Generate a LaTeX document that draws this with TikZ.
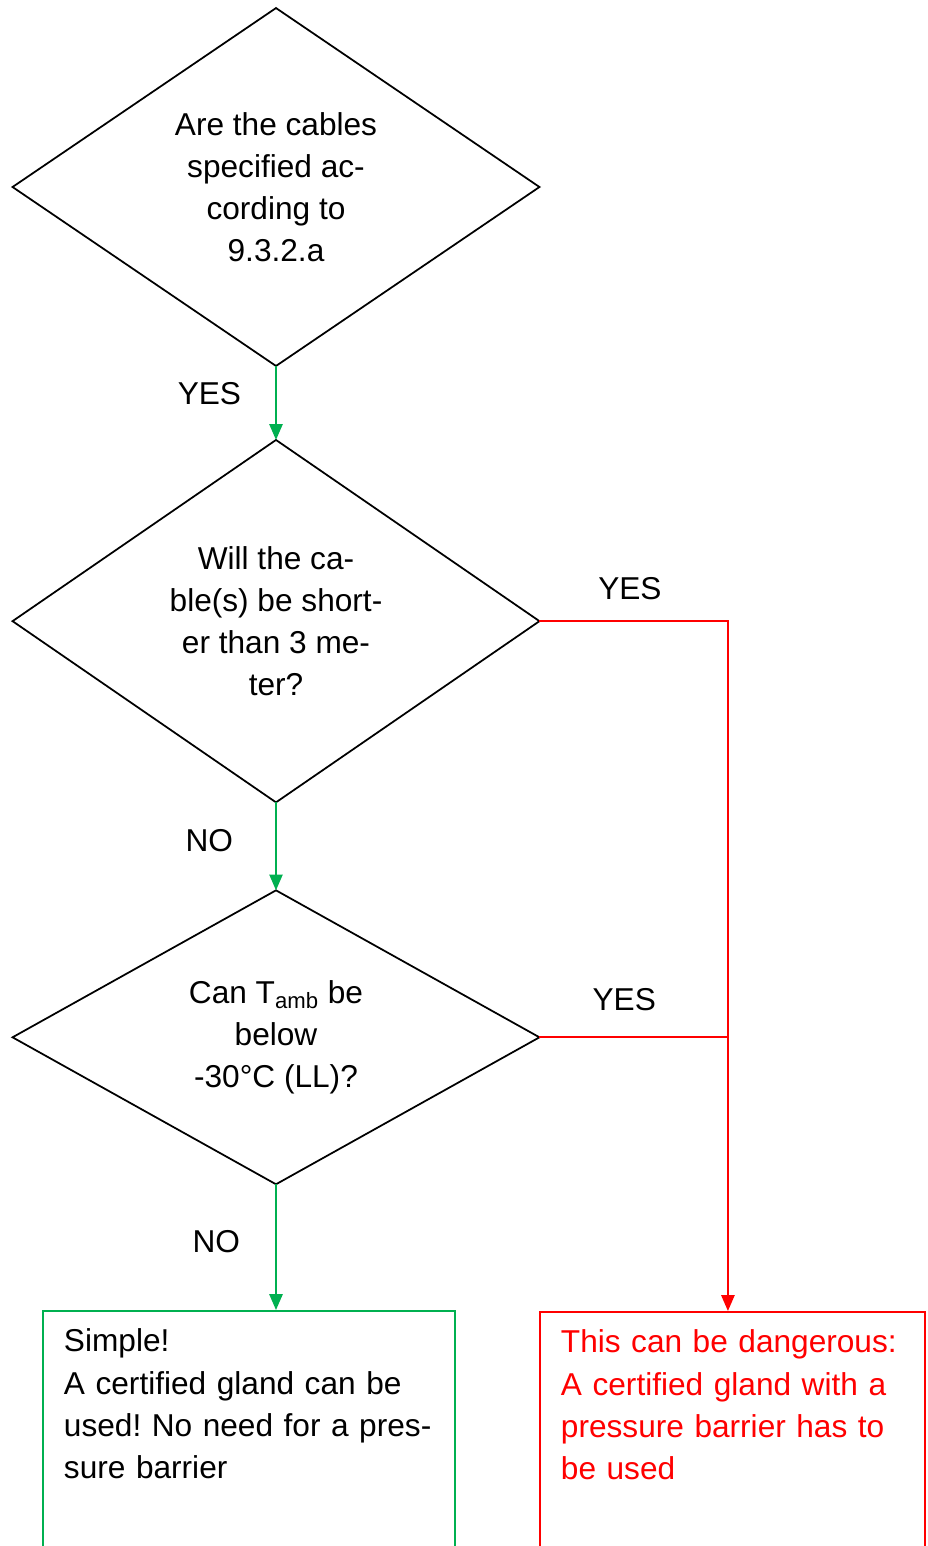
\documentclass[tikz,border=0pt]{standalone}
\usepackage{fontspec}
\setmainfont{Liberation Sans}
\frenchspacing
\usetikzlibrary{positioning,arrows.meta,shapes.geometric}
\definecolor{flowGreen}{HTML}{00B050}
\definecolor{flowRed}{HTML}{FF0000}
\tikzset{
  question/.style={diamond, draw=black, line width=1pt, inner sep=0pt, outer sep=0pt,
    minimum width=10.54cm, align=center, font=\fontsize{18}{24}\selectfont},
  answer/.style={rectangle, line width=1.1pt, anchor=north west, inner xsep=0.42cm,
    inner ysep=0.36cm, align=left, text depth=6cm, font=\fontsize{18}{24}\selectfont},
  greenflow/.style={draw=flowGreen, line width=1.1pt, -{Triangle[width=7.5pt,length=9pt]}},
  redline/.style={draw=flowRed, line width=1.1pt},
  redflow/.style={redline, -{Triangle[width=7.5pt,length=9pt]}},
  lbl/.style={inner sep=0pt, font=\fontsize{18}{24}\selectfont}
}
\begin{document}
\begin{tikzpicture}[x=0.02cm, y=-0.02cm]
  \clip (0,0) rectangle (928,1546);
  % questions
  \node[question, minimum height=7.16cm] (cables) at (276,187)
    {Are the cables\\ specified ac-\\ cording to\\ 9.3.2.a};
  \node[question, minimum height=7.24cm, below=1.48cm of cables] (short)
    {Will the ca-\\ ble(s) be short-\\ er than 3 me-\\ ter?};
  \node[question, minimum height=5.88cm, below=1.76cm of short] (tamb)
    {Can T\textsubscript{amb} be\\ below\\ -30°C (LL)?};
  % outcomes
  \node[answer, draw=flowGreen, text width=7.4cm] (simple) at (42,1310)
    {Simple!\\ A certified gland can be\\ \mbox{used! No need for a pres-}\\ sure barrier};
  \node[answer, draw=flowRed, text=flowRed, text width=6.86cm] (danger) at (539,1311)
    {This can be dangerous:\\ A certified gland with a\\ pressure barrier has to\\ be used};
  \coordinate (drop) at ([xshift=-0.09cm]danger.north);
  % connectors
  \draw[greenflow] (cables.south) -- node[lbl, left=0.68cm, yshift=0.18cm] {YES} (short.north);
  \draw[greenflow] (short.south) -- node[lbl, left=0.84cm, yshift=0.12cm] {NO} (tamb.north);
  \draw[greenflow] (tamb.south) -- node[lbl, left=0.7cm, yshift=0.12cm] {NO} (tamb.south |- simple.north);
  \draw[redflow] (short.east) -| node[lbl, pos=0.24, yshift=0.66cm] {YES} (drop);
  \draw[redline] (tamb.east) -- node[lbl, pos=0.45, yshift=0.76cm] {YES} (tamb.east -| drop);
\end{tikzpicture}
\end{document}
